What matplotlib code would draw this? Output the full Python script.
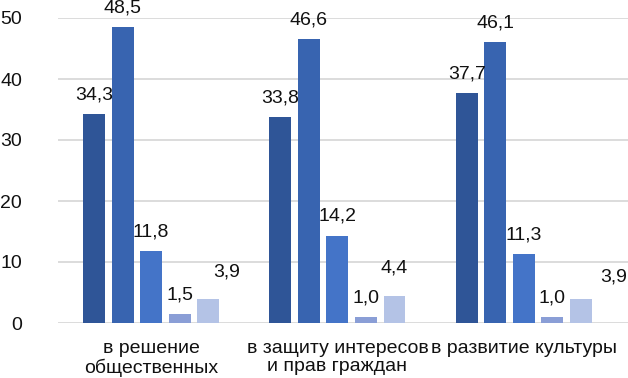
import matplotlib
matplotlib.use("Agg")
import matplotlib.pyplot as plt
import numpy as np

plt.rcParams['font.family'] = ['Liberation Sans', 'DejaVu Sans']

categories = ["в решение\nобщественных", "в защиту интересов\nи прав граждан", "в развитие культуры"]
series = [
    [34.3, 33.8, 37.7],
    [48.5, 46.6, 46.1],
    [11.8, 14.2, 11.3],
    [1.5, 1.0, 1.0],
    [3.9, 4.4, 3.9],
]
yticks = [0, 10, 20, 30, 40, 50]

colors = ["#2F5597", "#3864B0", "#4474C8", "#8A9ED6", "#B4C3E6"]
# label offsets in pixels (dx, dy) per series per group
label_offsets = [
    [(0, 19), (0, 19), (0, 19)],
    [(0, 19), (0, 19), (0, 19)],
    [(0, 19), (0, 20), (0, 19)],
    [(0, 19), (0, 19), (0, 19)],
    [(18, 27), (0, 28), (33, 22)],
]

W, H = 628, 378
fig = plt.figure(figsize=(W / 100, H / 100), dpi=100)
ax = fig.add_axes([58 / W, 55 / H, 1 - 58 / W, 305 / H])

x = np.arange(len(categories))
pitch = 0.153
width = 0.118
for i, vals in enumerate(series):
    pos = x + (i - 2) * pitch
    ax.bar(pos, vals, width=width, color=colors[i], zorder=3)
    for j, v in enumerate(vals):
        dx, dy = label_offsets[i][j]
        ax.annotate(f"{v:.1f}".replace(".", ","), (pos[j], v), xytext=(dx, dy),
                    textcoords="offset pixels", ha="center", va="center",
                    fontsize=14, color="#111111", annotation_clip=False, zorder=4)

ax.set_xlim(-0.5, (628 - 152) / 186)
ax.set_ylim(0, 50)
ax.set_yticks(yticks)
ax.set_yticklabels([str(t) for t in yticks], fontsize=14, color="#111111")
ax.set_xticks(x)
ax.set_xticklabels(categories, fontsize=14, color="#111111", linespacing=1.12)
ax.tick_params(axis="y", length=0, pad=26)
ax.tick_params(axis="x", length=0, pad=12)
ax.grid(axis="y", color="#d9d9d9", linewidth=1.3, zorder=0)
for s in ax.spines.values():
    s.set_visible(False)

fig.savefig("out.png", dpi=100)
